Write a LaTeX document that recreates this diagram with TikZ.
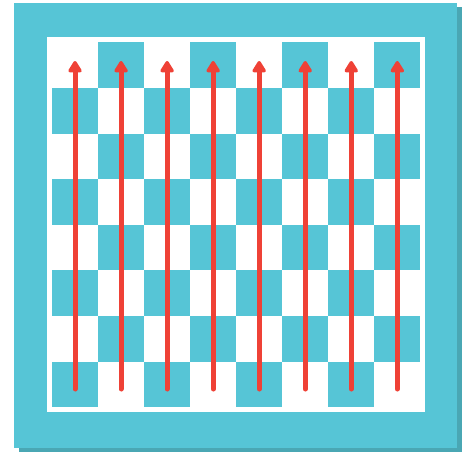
\documentclass[tikz,border=0pt]{standalone}
\usetikzlibrary{arrows.meta}
\definecolor{boardcyan}{HTML}{56C5D6}
\definecolor{shadowcyan}{HTML}{4AA7B4}
\definecolor{arrowred}{HTML}{EF4136}
\tikzset{
  frame/.style={fill=boardcyan, draw=none},
  shadowbox/.style={fill=shadowcyan, draw=none},
  inner/.style={fill=white, draw=none},
  cell/.style={fill=boardcyan, draw=none},
  uparrow/.style={draw=arrowred, line width=5pt, line cap=round,
    -{Triangle[width=15pt,length=13pt,round=false]}},
}
\begin{document}
\begin{tikzpicture}[x=1pt,y=-1pt]
  \useasboundingbox (0,0) rectangle (470,452);
  \fill[shadowbox] (19,7.5) rectangle (461.7,451.7);
  \fill[frame] (14,3) rectangle (456.7,447.7);
  \fill[inner] (47,37.3) rectangle (425.3,412.3);
  \foreach \r in {0,...,7}{
    \foreach \c in {0,...,7}{
      \pgfmathtruncatemacro{\odd}{mod(\r+\c,2)}
      \ifnum\odd=1
        \fill[cell] ({52+46.04*\c},{42.3+45.625*\r}) rectangle ({52+46.04*(\c+1)},{42.3+45.625*(\r+1)});
      \fi
    }
  }
  \foreach \c in {0,...,7}{
    \coordinate (s\c) at ({52+46.04*(\c+0.5)},389);
    \coordinate (e\c) at ({52+46.04*(\c+0.5)},61);
    \draw[uparrow] (s\c) -- (e\c);
  }
\end{tikzpicture}
\end{document}
